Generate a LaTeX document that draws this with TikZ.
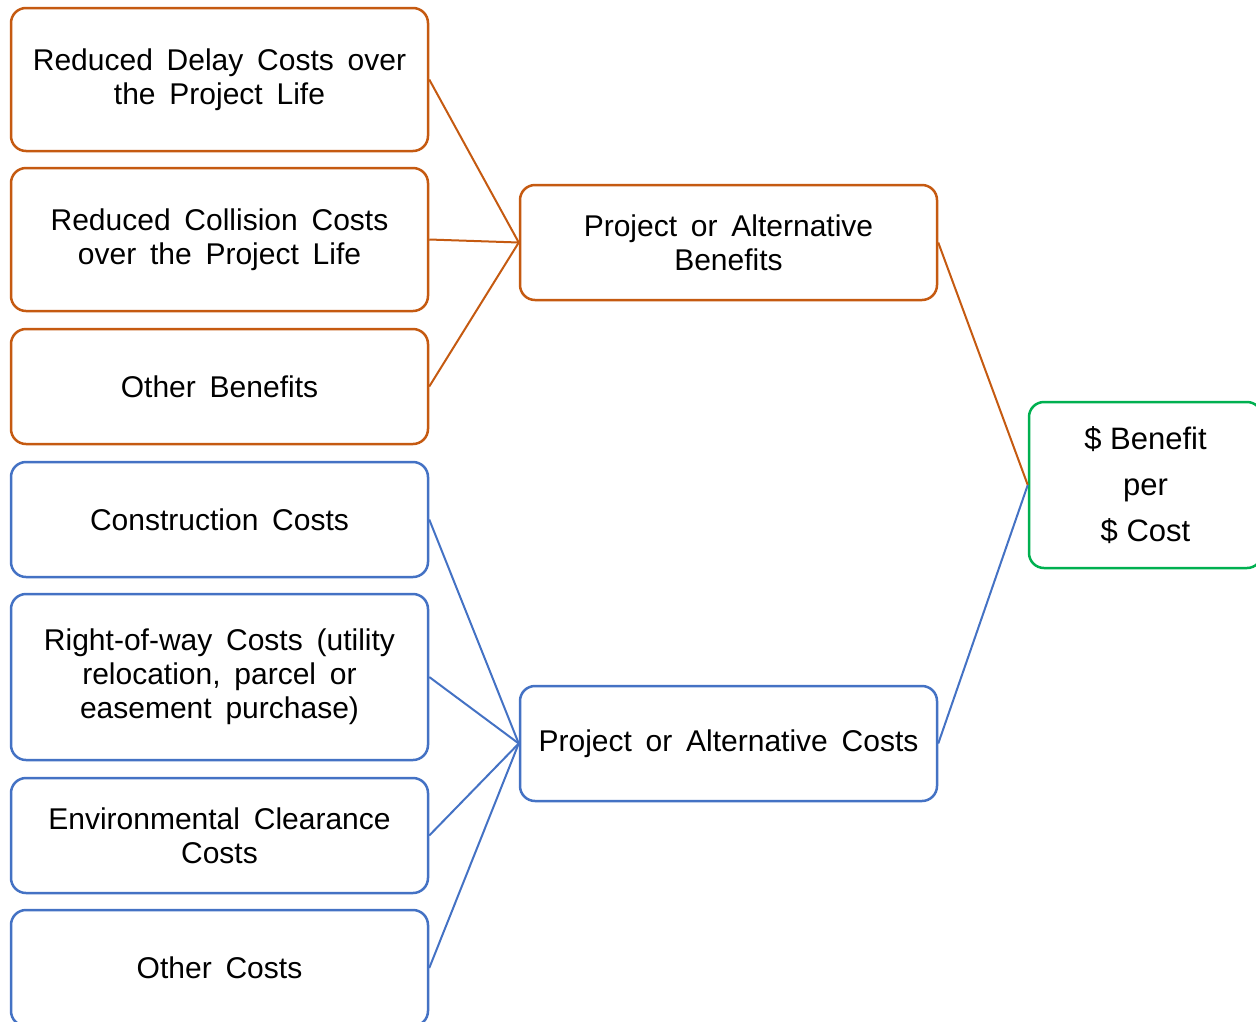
\documentclass[tikz,border=0pt]{standalone}
\usepackage{fontspec}
\setmainfont{Liberation Sans}
\definecolor{benefitorange}{HTML}{C55A11}
\definecolor{costblue}{HTML}{4472C4}
\definecolor{resultgreen}{HTML}{00B050}
\newcommand\boxfont{\fontsize{30}{34}\selectfont\setlength{\spaceskip}{0.46em}}
\newcommand\ratiofont{\fontsize{31}{46}\selectfont}
\tikzset{
  box/.style={draw, rounded corners=15pt, line width=2.5pt, fill=white,
    align=center, inner sep=0pt, font=\boxfont},
  leftbox/.style={box, minimum width=417pt},
  midbox/.style={box, minimum width=417pt, minimum height=115pt},
  ben/.style={draw=benefitorange},
  cst/.style={draw=costblue},
  benline/.style={benefitorange, line width=2pt},
  cstline/.style={costblue, line width=2pt},
}
\begin{document}
\begin{tikzpicture}[x=1pt, y=-1pt]
  \useasboundingbox (0,0) rectangle (1256,1021);
  \clip (0,0) rectangle (1256,1021);

  % benefit inputs
  \node[leftbox, ben, minimum height=143pt] (delay) at (219.5,79.5)
    {Reduced Delay Costs over\\the Project Life};
  \node[leftbox, ben, minimum height=143pt] (collision) at (219.5,239.5)
    {Reduced Collision Costs\\over the Project Life};
  \node[leftbox, ben, minimum height=115pt] (otherben) at (219.5,386.5)
    {Other Benefits};

  % cost inputs
  \node[leftbox, cst, minimum height=115pt] (construction) at (219.5,519.5)
    {Construction Costs};
  \node[leftbox, cst, minimum height=166pt] (row) at (219.5,677)
    {Right-of-way Costs (utility\\relocation, parcel or\\easement purchase)};
  \node[leftbox, cst, minimum height=115pt] (env) at (219.5,835.5)
    {Environmental Clearance\\Costs};
  \node[leftbox, cst, minimum height=116pt] (othercost) at (219.5,968)
    {Other Costs};

  % totals
  \node[midbox, ben] (benefits) at (728.5,242.5)
    {Project or Alternative\\Benefits};
  \node[midbox, cst] (costs) at (728.5,743.5)
    {Project or Alternative Costs};

  % ratio
  \node[box, draw=resultgreen, minimum width=233pt, minimum height=166pt,
        font=\ratiofont] (ratio) at (1145.5,485)
    {\$ Benefit\\per\\\$ Cost};

  % connectors
  \draw[benline] (delay.east) -- (benefits.west);
  \draw[benline] (collision.east) -- (benefits.west);
  \draw[benline] (otherben.east) -- (benefits.west);
  \draw[benline] (benefits.east) -- (ratio.west);

  \draw[cstline] (construction.east) -- (costs.west);
  \draw[cstline] (row.east) -- (costs.west);
  \draw[cstline] (env.east) -- (costs.west);
  \draw[cstline] (othercost.east) -- (costs.west);
  \draw[cstline] (costs.east) -- (ratio.west);
\end{tikzpicture}
\end{document}
